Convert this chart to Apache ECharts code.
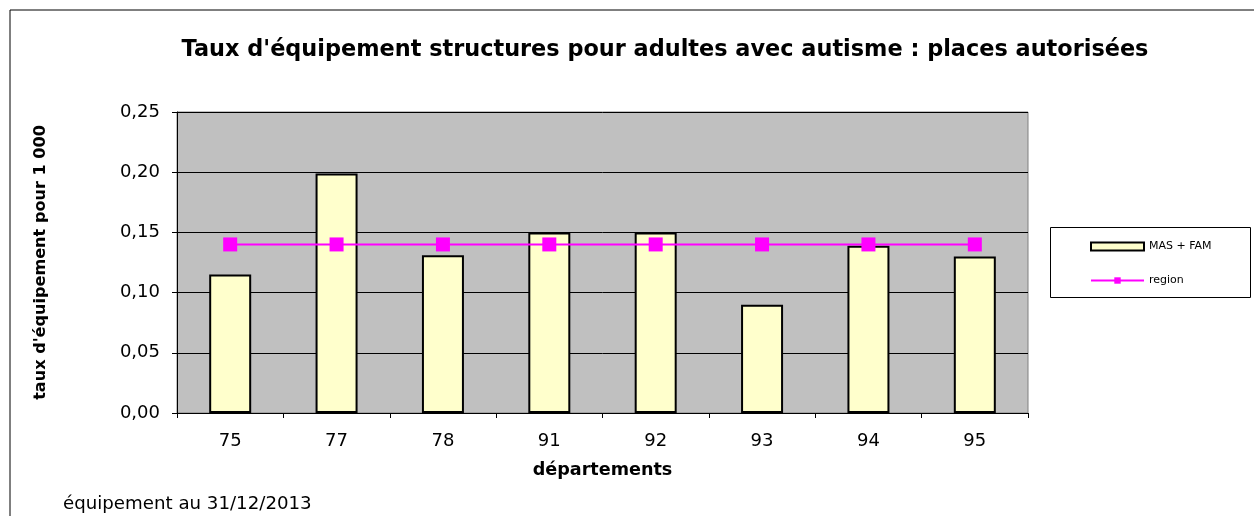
<!DOCTYPE html>
<html>
<head>
<meta charset="utf-8">
<script src="https://cdn.jsdelivr.net/npm/echarts@6/dist/echarts.min.js"></script>
<style>
html,body{margin:0;padding:0;background:#fff;}
#chart{width:1254px;height:516px;}
</style>
</head>
<body>
<div id="chart"></div>
<script>
const categories = ['75', '77', '78', '91', '92', '93', '94', '95'];
const masFam = [0.115, 0.199, 0.131, 0.150, 0.150, 0.090, 0.139, 0.130];
const region = [0.140, 0.140, 0.140, 0.140, 0.140, 0.140, 0.140, 0.140];
const yTicks = { min: 0, max: 0.25, interval: 0.05 };

const FONT = '"DejaVu Sans", Verdana, sans-serif';
const chart = echarts.init(document.getElementById('chart'));
chart.setOption({
  animation: false,
  backgroundColor: '#fff',
  textStyle: { fontFamily: FONT },
  title: {
    text: "Taux d'équipement structures pour adultes avec autisme : places autorisées",
    left: 660, top: 34, textAlign: 'center',
    textStyle: { fontFamily: FONT, fontSize: 22.4, fontWeight: 'bold', color: '#000' }
  },
  grid: {
    left: 177, right: 226, top: 112, bottom: 103,
    show: true, backgroundColor: '#c0c0c0', borderColor: '#808080', borderWidth: 1
  },
  legend: {
    orient: 'vertical', left: 1085, top: 236, itemGap: 23,
    itemWidth: 53, itemHeight: 8,
    textStyle: { fontFamily: FONT, fontSize: 11, color: '#000' },
    data: [{ name: 'MAS + FAM', icon: 'rect' }, { name: 'region' }]
  },
  xAxis: {
    type: 'category', data: categories,
    name: 'départements', nameLocation: 'middle', nameGap: 48,
    nameTextStyle: { fontFamily: FONT, fontSize: 17.6, fontWeight: 'bold', color: '#000' },
    axisLine: { lineStyle: { color: '#000', width: 1 } },
    axisTick: { show: true, length: 5, lineStyle: { color: '#000' } },
    axisLabel: { fontFamily: FONT, fontSize: 18, color: '#000', margin: 19 }
  },
  yAxis: {
    type: 'value', min: yTicks.min, max: yTicks.max, interval: yTicks.interval,
    name: "taux d'équipement pour 1 000", nameLocation: 'middle', nameGap: 128,
    nameTextStyle: { fontFamily: FONT, fontSize: 16.1, fontWeight: 'bold', color: '#000' },
    axisLine: { show: true, lineStyle: { color: '#000', width: 1 } },
    axisTick: { show: true, length: 5, lineStyle: { color: '#000' } },
    axisLabel: { fontFamily: FONT, fontSize: 18, color: '#000', margin: 17,
      formatter: v => v.toFixed(2).replace('.', ',') },
    splitLine: { show: true, lineStyle: { color: '#000', width: 1 } }
  },
  series: [
    {
      name: 'MAS + FAM', type: 'bar', data: masFam, barWidth: 42,
      itemStyle: { color: '#ffffcc', borderColor: '#000', borderWidth: 2 }
    },
    {
      name: 'region', type: 'line', data: region,
      symbol: 'rect', symbolSize: 14,
      lineStyle: { color: '#ff00ff', width: 2 },
      itemStyle: { color: '#ff00ff' }
    }
  ],
  graphic: [
    { type: 'line', shape: { x1: 10, y1: 10, x2: 1254, y2: 10 }, style: { stroke: '#000', lineWidth: 1 } },
    { type: 'line', shape: { x1: 10, y1: 10, x2: 10, y2: 516 }, style: { stroke: '#000', lineWidth: 1 } },
    { type: 'rect', shape: { x: 1050.5, y: 227.5, width: 200, height: 70 }, style: { fill: 'none', stroke: '#000', lineWidth: 1 }, z: 0 },
    { type: 'text', left: 63, top: 495, style: { text: 'équipement au 31/12/2013', fontFamily: FONT, fontSize: 18.2, fill: '#000' } }
  ]
});
</script>
</body>
</html>
